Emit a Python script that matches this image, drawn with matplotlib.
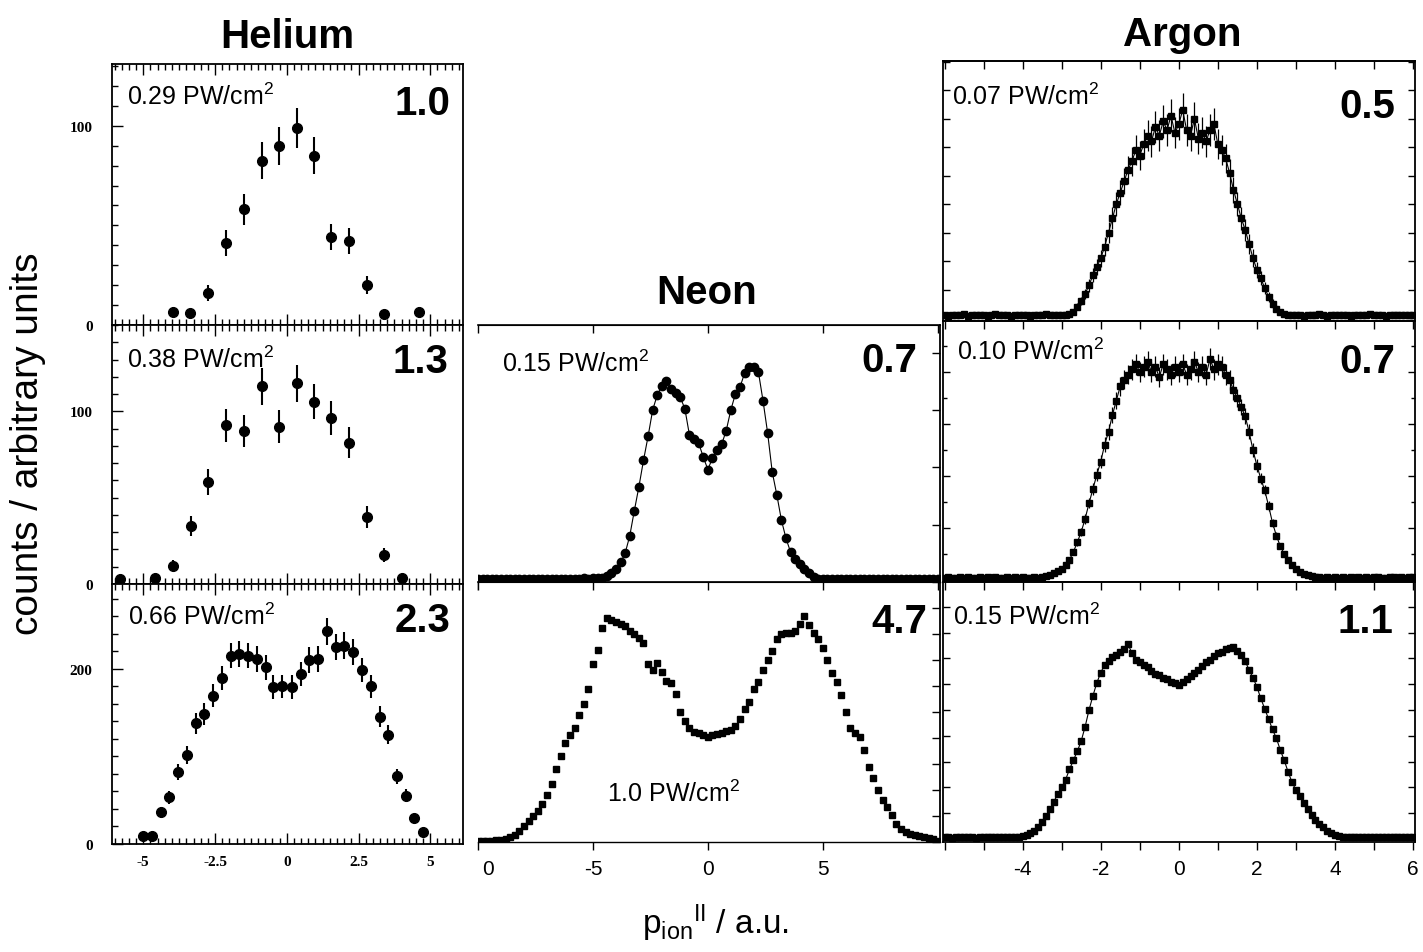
import numpy as np
import matplotlib.pyplot as plt
from matplotlib.ticker import MultipleLocator, NullFormatter
import matplotlib.transforms as mtransforms

plt.rcParams['font.family'] = ['Liberation Sans', 'DejaVu Sans']
plt.rcParams['mathtext.default'] = 'regular'
plt.rcParams['axes.unicode_minus'] = False

# -----------------------------------------------------------
# Helium: counts vs p_ion (a.u.), with statistical error bars
# -----------------------------------------------------------
he1_x = [-3.95, -3.37, -2.73, -2.11, -1.49, -0.87, -0.27, 0.35, 0.96, 1.54, 2.17, 2.79, 3.39, 4.62]
he1_y = [6.3, 5.8, 16.2, 41.2, 58.0, 82.5, 90.0, 98.8, 85.0, 44.2, 42.2, 20.0, 5.3, 6.3]
he1_err = [2.5, 2.4, 4.0, 6.4, 7.6, 9.1, 9.5, 9.9, 9.2, 6.6, 6.5, 4.5, 2.3, 2.5]

he2_x = [-5.81, -4.59, -3.95, -3.34, -2.73, -2.11, -1.49, -0.87, -0.27, 0.35, 0.96, 1.54,
         2.17, 2.79, 3.39, 4.01]
he2_y = [2.9, 3.3, 10.6, 33.4, 59.1, 91.9, 88.6, 114.6, 91.2, 116.2, 105.6, 96.0,
         81.9, 38.9, 16.9, 3.3]
he2_err = [1.7, 1.8, 3.3, 5.8, 7.7, 9.6, 9.4, 10.7, 9.5, 10.8, 10.3, 9.8,
           9.0, 6.2, 4.1, 1.8]

he3_x = [-5.0, -4.7, -4.39, -4.09, -3.8, -3.48, -3.17, -2.88, -2.56, -2.26,
         -1.95, -1.65, -1.34, -1.05, -0.73, -0.47, -0.15, 0.17, 0.49, 0.79,
         1.1, 1.41, 1.72, 2.0, 2.32, 2.63, 2.94, 3.25, 3.54, 3.83,
         4.15, 4.45, 4.76]
he3_y = [8.8, 9.5, 36.2, 53.4, 81.9, 101.7, 137.9, 148.6, 169.5, 189.7,
         215.2, 217.1, 215.2, 211.4, 201.9, 179.1, 180.2, 179.1, 194.3, 210.3,
         211.4, 243.1, 224.8, 226.6, 219.1, 198.9, 180.2, 145.5, 124.9, 77.4,
         55.2, 29.4, 13.4]
he3_err = [3.0, 3.1, 6.0, 7.3, 9.0, 10.1, 11.7, 12.2, 13.0, 13.8,
           14.7, 14.7, 14.7, 14.5, 14.2, 13.4, 13.4, 13.4, 13.9, 14.5,
           14.5, 15.6, 15.0, 15.1, 14.8, 14.1, 13.4, 12.1, 11.2, 8.8,
           7.4, 5.4, 3.7]

# -----------------------------------------------------------
# Neon: bins of 0.2 a.u. from -10 to 10
# -----------------------------------------------------------
ne_x = np.linspace(-10, 10, 101)
ne1_y = ([2.5, 2.8, 2.3, 2.6, 2.4, 2.7, 2.5, 2.9, 2.4, 2.6,
          2.8, 2.3, 2.5, 2.7, 2.6, 2.4, 2.8, 2.5, 2.6, 2.9,
          2.7, 3.0, 2.8, 3.1, 2.9, 3.2, 3.4]
         + [3.5, 5.5, 8, 11, 17, 25, 40, 62, 83, 106,
            127, 150, 163, 171, 175, 168, 165, 161, 151, 128,
            125, 121, 109, 98, 108, 115, 120, 132, 150, 164,
            170, 182, 187, 187, 183, 158, 130, 96, 76, 54,
            38, 26, 20, 15.5, 11.5, 7.5, 4.5]
         + [3.0, 2.7, 2.8, 2.5, 2.6, 2.9, 2.4, 2.7, 2.5, 2.8,
            2.6, 2.3, 2.7, 2.5, 2.9, 2.6, 2.4, 2.8, 2.5, 2.7,
            2.6, 2.4, 2.8, 2.5, 2.6, 2.7, 2.5])
ne2_y = [0.5, 0.6, 0.8, 1.0, 1.2, 1.6, 2.4, 3.6, 5.5, 8.5,
         12, 16.5, 20, 24, 29, 36, 45, 56, 66, 76,
         82, 88, 98, 106, 118, 137, 148, 165, 172, 171,
         169, 168, 166, 162, 160, 157, 153, 137, 132, 138,
         131, 124, 122, 114, 100, 93, 88, 85, 84, 82,
         80.5, 82, 83, 84, 85.5, 86, 89, 95, 102, 108,
         118, 123, 132, 140, 147, 156, 160, 161, 161, 162,
         168, 174, 167, 161, 156, 149, 140, 130, 123, 113,
         100, 88, 84, 81, 71, 58, 49, 40, 32, 27,
         21, 14, 10, 7.5, 6.5, 5.5, 5, 4, 3, 2,
         1]

# -----------------------------------------------------------
# Argon: bins of 0.1 a.u. from -6 to 6
# -----------------------------------------------------------
ar_x = np.linspace(-6, 6, 121)
ar1_y = ([1.0, 0.8, 1.2, 0.9, 1.1, 1.3, 0.8, 1.0, 1.2, 0.9,
          1.1, 0.7, 1.0, 1.3, 0.9, 1.0, 1.2, 0.8, 1.1, 0.9,
          1.0, 1.2, 0.8, 1.1, 0.9, 1.0, 1.3, 0.9, 1.1, 1.0,
          1.2, 1.0, 1.4]
         + [2.2, 4.0, 6.0, 8.5, 11.5, 15, 18, 21, 25, 30,
            35, 40, 44, 48, 52, 55, 59, 57, 61, 64,
            62, 67, 64, 69, 66, 71, 65, 68, 73, 66,
            64, 70, 63, 65, 62, 66, 68, 61, 59, 56,
            51, 45, 40, 35, 31, 26, 21, 17, 14, 10.5,
            7.5, 5, 3.2, 2.0, 1.4]
         + [1.1, 0.9, 1.0, 1.2, 0.8, 1.1, 1.0, 0.9, 1.3, 1.0,
            0.8, 1.1, 1.2, 0.9, 1.0, 1.1, 0.8, 1.2, 1.0, 0.9,
            1.1, 1.3, 0.9, 1.0, 1.2, 0.8, 1.0, 1.1, 0.9, 1.2,
            1.0, 0.9, 1.1])
ar1_err = ([0] * 33
           + [0.8, 1.2, 1.5, 1.8, 2.2, 2.5, 2.8, 3, 3.3, 3.6,
              3.9, 4.2, 4.4, 4.6, 4.8, 5, 5.2, 5.1, 5.3, 5.5,
              5.4, 5.6, 5.5, 5.7, 5.6, 5.8, 5.5, 5.7, 5.9, 5.6,
              5.5, 5.8, 5.4, 5.5, 5.4, 5.6, 5.7, 5.3, 5.2, 5.1,
              4.9, 4.6, 4.3, 4, 3.8, 3.5, 3.1, 2.8, 2.5, 2.2,
              1.8, 1.5, 1.2, 1, 0.8]
           + [0] * 33)

ar2_y = ([0.8, 1.0, 0.7, 0.9, 1.1, 0.8, 1.0, 0.9, 0.7, 1.0,
          0.9, 1.1, 0.8, 1.0, 0.9, 0.7, 1.0, 0.8, 1.1, 0.9,
          1.0, 0.8, 0.9, 1.0, 0.9]
         + [1.0, 1.4, 2.0, 2.6, 3.4, 4.4, 5.8, 7.8, 10.8, 14.5,
            18.5, 23.5, 29.5, 35, 40.5, 45.5, 52, 57, 63.5, 69,
            74.5, 77, 79, 81, 83, 80, 82, 84, 80, 82,
            78, 83, 81, 79, 82, 80, 83, 79, 81, 84,
            80, 82, 79, 85, 81, 83, 82, 79, 77, 73,
            70, 66.5, 63, 57, 50, 44, 39, 34.5, 28.5, 22,
            17, 13, 10, 7.5, 5.6, 4.2, 3.1, 2.4, 1.9, 1.5,
            1.2]
         + [1.0, 0.9, 1.1, 0.8, 1.0, 0.9, 1.2, 0.8, 1.0, 0.9,
            1.1, 0.8, 1.0, 0.9, 1.1, 1.0, 0.8, 0.9, 1.1, 1.0,
            0.8, 1.0, 0.9, 1.1, 1.0])
ar2_err = ([0] * 25
           + [0.3, 0.4, 0.5, 0.6, 0.7, 0.8, 0.9, 1.0, 1.2, 1.4,
              1.6, 1.8, 2.0, 2.2, 2.4, 2.6, 2.8, 3, 3.2, 3.4,
              3.6, 3.7, 3.8, 3.9, 4, 3.9, 4, 4.1, 3.9, 4,
              3.9, 4.1, 4, 3.9, 4, 4, 4.1, 3.9, 4, 4.1,
              4, 4, 3.9, 4.2, 4, 4.1, 4, 3.9, 3.8, 3.6,
              3.4, 3.2, 3, 2.8, 2.6, 2.4, 2.2, 2, 1.8, 1.5,
              1.3, 1.1, 0.9, 0.8, 0.7, 0.6, 0.5, 0.4, 0.4, 0.3,
              0.3]
           + [0] * 25)

ar3_y = ([0.6, 0.8, 0.5, 0.7, 0.9, 0.6, 0.8, 0.7, 0.5, 0.8,
          0.7, 0.6, 0.9, 0.7, 0.8, 0.6, 0.7, 0.9, 0.8, 0.9]
         + [1.0, 1.5, 2.2, 3.2, 4.5, 6.5, 9, 11.5, 14.5, 17.5,
            20, 23, 27, 30.5, 34, 38, 43.5, 50, 55.5, 60.5,
            64.5, 67.5, 69, 70.5, 71.5, 72.5, 73.5, 75.5, 72, 69.5,
            68.5, 67.5, 66.5, 65, 64, 63.5, 62.5, 62, 61, 60.5,
            59.5, 61, 62, 63, 64.5, 65.5, 67, 68.5, 69.5, 71,
            72, 72.5, 73.5, 74, 74.5, 73, 71.5, 69, 65.5, 62.5,
            59, 54.5, 50.5, 46.5, 42.5, 39, 34.5, 30.5, 26, 22,
            19, 16.5, 14, 11.5, 9.5, 7.5, 6, 4.5, 3.3, 2.4,
            1.6, 1.1]
         + [0.9, 0.8, 0.7, 0.9, 0.6, 0.8, 0.7, 0.9, 0.6, 0.8,
            0.7, 0.9, 0.8, 0.6, 0.7, 0.9, 0.8, 0.6, 0.7])

he_labels = ['0.29 PW/cm$^2$', '0.38 PW/cm$^2$', '0.66 PW/cm$^2$']
he_ratio = ['1.0', '1.3', '2.3']
ne_labels = ['0.15 PW/cm$^2$', '1.0 PW/cm$^2$']
ne_ratio = ['0.7', '4.7']
ar_labels = ['0.07 PW/cm$^2$', '0.10 PW/cm$^2$', '0.15 PW/cm$^2$']
ar_ratio = ['0.5', '0.7', '1.1']

# -----------------------------------------------------------
# Figure, laid out in pixels of the 1423x953 canvas
# -----------------------------------------------------------
W, H = 1423, 953
fig = plt.figure(figsize=(W / 100, H / 100), dpi=100)


def px_axes(x0, y0, x1, y1):
    return fig.add_axes([x0 / W, 1 - y1 / H, (x1 - x0) / W, (y1 - y0) / H])


def ftext(x, y, s, **kw):
    fig.text(x / W, 1 - y / H, s, **kw)


def top_ticks(ax, major, minor=None, length=6):
    # inward ticks on the top edge, while the bottom ticks point out
    sec = ax.secondary_xaxis('top')
    sec.xaxis.set_major_locator(MultipleLocator(major))
    if minor:
        sec.xaxis.set_minor_locator(MultipleLocator(minor))
    sec.xaxis.set_major_formatter(NullFormatter())
    sec.tick_params(which='both', direction='in', length=length, width=1)
    sec.spines['top'].set_linewidth(1.2)
    return sec


serif = dict(fontfamily='Liberation Serif', fontweight='bold', fontsize=11)
lab_kw = dict(fontsize=18, ha='left', va='baseline')
num_kw = dict(fontsize=29, fontweight='bold', ha='right', va='baseline')

# ---- Helium column ----
he_rows = [(65, 326), (326, 585), (585, 845)]
he_data = [(he1_x, he1_y, he1_err), (he2_x, he2_y, he2_err), (he3_x, he3_y, he3_err)]
he_ylim = [131, 150, 297]
he_yt = [[0, 100], [0, 100], [0, 200]]
he_ymin = [10, 10, 20]
for i, (y0, y1) in enumerate(he_rows):
    ax = px_axes(112, y0, 463, y1)
    x, y, e = he_data[i]
    ax.errorbar(x, y, yerr=e, fmt='o', color='black', ms=7, elinewidth=1.5, capsize=0)
    ax.set_xlim(-6.09, 6.14)
    ax.set_ylim(0, he_ylim[i])
    ax.set_xticks([-5, -2.5, 0, 2.5, 5])
    ax.xaxis.set_minor_locator(MultipleLocator(0.25))
    ax.set_yticks(he_yt[i])
    ax.set_yticklabels([str(v) for v in he_yt[i]], **serif)
    ax.yaxis.set_minor_locator(MultipleLocator(he_ymin[i]))
    if i == 2:
        ax.set_xticklabels(['-5', '-2.5', '0', '2.5', '5'], **serif)
    else:
        ax.set_xticklabels([])
    ax.tick_params(which='both', direction='in', top=True, right=False, width=1)
    ax.tick_params(which='major', length=8)
    ax.tick_params(which='minor', length=4)
    ax.tick_params(axis='y', pad=14)
    ax.tick_params(axis='x', pad=8)
    for sp in ax.spines.values():
        sp.set_linewidth(1.3)

# ---- Neon column ----
ne_rows = [(326, 583), (583, 843)]
ne_ylim = [224, 200]
ne_ymaj = [50, 20]
for i, (y0, y1) in enumerate(ne_rows):
    ax = px_axes(478, y0, 940, y1)
    if i == 0:
        ax.plot(ne_x, ne1_y, '-o', color='black', lw=0.8, ms=6)
    else:
        ax.plot(ne_x, ne2_y, 's', color='black', ms=5, ls='none')
    ax.set_xlim(-10.0, 10.1)
    ax.set_ylim(0, ne_ylim[i])
    ax.set_xticks([-10, -5, 0, 5])
    ax.yaxis.set_major_locator(MultipleLocator(ne_ymaj[i]))
    ax.spines['left'].set_visible(False)
    ax.spines['top'].set_linewidth(0.8)
    ax.spines['right'].set_linewidth(1.3)
    ax.spines['bottom'].set_linewidth(1.0)
    ax.tick_params(axis='y', left=False, right=True, direction='in', length=6,
                   labelleft=False, width=1)
    ax.tick_params(axis='x', direction='out', length=6, width=1, labelsize=15, pad=6)
    if i == 1:
        ax.set_xticklabels(['0', '-5', '0', '5'])
        # the '-1' of the leftmost label is hidden in the original; keep the visible '0'
        shift = mtransforms.ScaledTranslation(7 / 72, 0, fig.dpi_scale_trans)
        first = ax.get_xticklabels()[0]
        first.set_transform(first.get_transform() + shift)
    else:
        ax.set_xticklabels([])
    top_ticks(ax, 5)

# ---- Argon column ----
ar_rows = [(62, 322), (322, 583), (583, 843)]
ar_data = [ar1_y, ar2_y, ar3_y]
ar_errs = [ar1_err, ar2_err, None]
ar_ylim = [(-1.05, 90.2), (-0.77, 99.6), (-1.15, 99.6)]
ar_ymaj = [10, 20, 10]
for i, (y0, y1) in enumerate(ar_rows):
    ax = px_axes(943, y0, 1415, y1)
    if ar_errs[i] is not None:
        ax.errorbar(ar_x, ar_data[i], yerr=ar_errs[i], fmt='-s', color='black',
                    ms=4.5, lw=0.8, elinewidth=0.9, capsize=0)
    else:
        ax.plot(ar_x, ar_data[i], '-s', color='black', ms=4.5, lw=0.8)
    ax.set_xlim(-6.04, 6.05)
    ax.set_ylim(*ar_ylim[i])
    ax.xaxis.set_major_locator(MultipleLocator(2))
    ax.xaxis.set_minor_locator(MultipleLocator(1))
    ax.yaxis.set_major_locator(MultipleLocator(ar_ymaj[i]))
    if i == 1:
        ax.yaxis.set_minor_locator(MultipleLocator(10))
    ax.tick_params(axis='y', which='both', direction='in', left=True, right=True,
                   labelleft=False, length=5, width=1)
    ax.tick_params(axis='y', which='minor', length=3)
    ax.tick_params(axis='x', which='both', direction='out', length=6, width=1,
                   labelsize=15, pad=6)
    if i != 2:
        ax.set_xticklabels([])
    else:
        ax.xaxis.set_major_formatter(lambda v, pos: '' if v < -5 else f'{v:g}')
    for sp in ax.spines.values():
        sp.set_linewidth(1.3)
    top_ticks(ax, 1)

# ---- panel annotations: intensity and ratio ----
for (x, y), s in zip([(127, 105), (127, 368), (128, 625)], he_labels):
    ftext(x, y, s, **lab_kw)
for (x, y), s in zip([(450, 115), (448, 373), (450, 632)], he_ratio):
    ftext(x, y, s, **num_kw)
for (x, y), s in zip([(502, 372), (607, 802)], ne_labels):
    ftext(x, y, s, **lab_kw)
for (x, y), s in zip([(917, 372), (927, 633)], ne_ratio):
    ftext(x, y, s, **num_kw)
for (x, y), s in zip([(952, 105), (957, 360), (953, 625)], ar_labels):
    ftext(x, y, s, **lab_kw)
for (x, y), s in zip([(1395, 118), (1395, 373), (1393, 633)], ar_ratio):
    ftext(x, y, s, **num_kw)

# ---- column titles and axis labels ----
ftext(287, 48, 'Helium', fontsize=29, fontweight='bold', ha='center', va='baseline')
ftext(707, 304, 'Neon', fontsize=29, fontweight='bold', ha='center', va='baseline')
ftext(1182, 46, 'Argon', fontsize=29, fontweight='bold', ha='center', va='baseline')
ftext(28, 444, 'counts / arbitrary units', fontsize=28, rotation=90,
      ha='center', va='center')
ftext(716, 923, r'p$_{ion}$$^{II}$ / a.u.', fontsize=24, ha='center', va='center')

fig.savefig('out.png', dpi=100)
